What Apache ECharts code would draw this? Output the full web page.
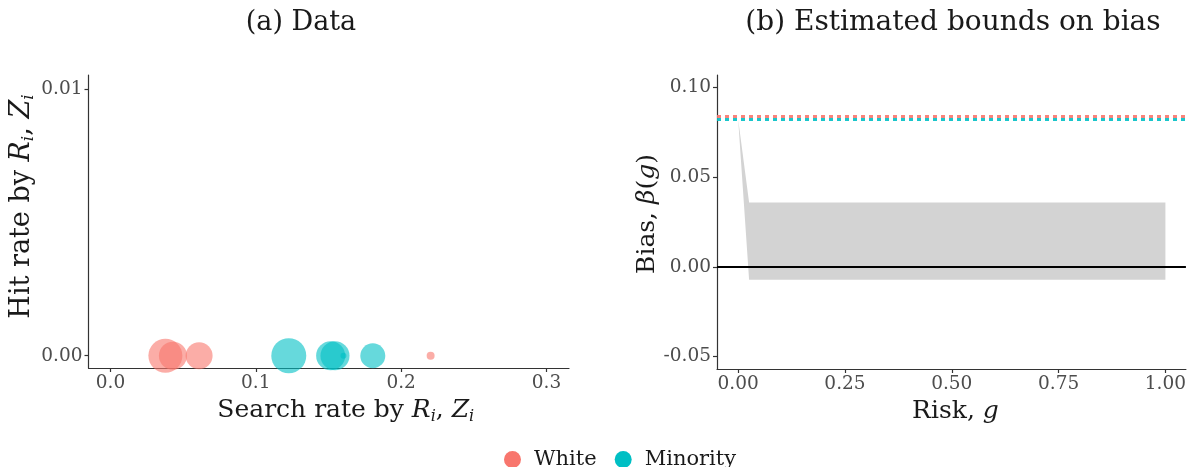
<!DOCTYPE html>
<html>
<head>
<meta charset="utf-8">
<script src="https://cdn.jsdelivr.net/npm/echarts@6/dist/echarts.min.js"></script>
<style>
  html, body { margin: 0; padding: 0; background: #ffffff; }
  #chart { width: 1189px; height: 467px; }
</style>
</head>
<body>
<div id="chart"></div>
<script>
// Panel titles
const panelTitles = ['(a) Data', '(b) Estimated bounds on bias'];

// (a) Search rate / hit rate by group, bubble area ~ number of stops
const whiteSearchRate = [0.0378, 0.0430, 0.0610, 0.2203];
const whiteHitRate = [0, 0, 0, 0];
const whiteStops = [1000, 680, 630, 55];
const minoritySearchRate = [0.1227, 0.1515, 0.1545, 0.1603, 0.1805];
const minorityHitRate = [0, 0, 0, 0, 0];
const minorityStops = [1060, 730, 730, 31, 540];

// (b) Estimated bounds on bias across risk g
const riskGrid = [0, 0.0256, 1];
const biasLower = [0.0822, -0.0072, -0.0072];
const biasUpper = [0.0822, 0.0358, 0.0358];
const whiteHitThreshold = 0.0840;
const minorityHitThreshold = 0.0825;

// Tick labels
const leftXTicks = [0, 0.1, 0.2, 0.3];
const leftYTicks = [0, 0.01];
const rightXTicks = [0, 0.25, 0.5, 0.75, 1];
const rightYTicks = [-0.05, 0, 0.05, 0.1];

const WHITE = '#F8766D';
const MINORITY = '#00BFC4';
const SERIF = '"DejaVu Serif", "Liberation Serif", serif';
const AXIS_COL = '#333333';
const TICK_COL = '#4D4D4D';

function bubbleSize(stops) { return 34 * Math.sqrt(stops / 1000); }
function zip(xs, ys, extra) {
  return xs.map((x, i) => extra ? [x, ys[i], extra[i]] : [x, ys[i]]);
}

function nameStyle(size, padding) {
  return {
    fontFamily: SERIF, fontSize: size, color: '#1a1a1a', padding: padding || 0,
    rich: {
      it: { fontFamily: SERIF, fontStyle: 'italic', fontSize: size, color: '#1a1a1a' },
      sub: { fontFamily: SERIF, fontStyle: 'italic', fontSize: Math.round(size * 0.64), color: '#1a1a1a', verticalAlign: 'bottom', padding: [0, 0, -2, 0] }
    }
  };
}

function axisCommon(ticks, digits) {
  return {
    axisLine: { show: true, onZero: false, lineStyle: { color: AXIS_COL, width: 1.2 } },
    axisTick: { show: true, length: 4, customValues: ticks, lineStyle: { color: AXIS_COL, width: 1.2 } },
    axisLabel: {
      customValues: ticks, margin: 6, color: TICK_COL, fontFamily: SERIF, fontSize: 18.5,
      formatter: v => Number(v).toFixed(digits)
    },
    splitLine: { show: false }
  };
}

const chart = echarts.init(document.getElementById('chart'), null, { renderer: 'canvas' });

const option = {
  backgroundColor: '#ffffff',
  animation: false,
  graphic: [
    { type: 'text', x: 301, y: 23, style: { text: panelTitles[0], font: '27px ' + SERIF, fill: '#1a1a1a', textAlign: 'center', textVerticalAlign: 'middle' } },
    { type: 'text', x: 953, y: 23, style: { text: panelTitles[1], font: '28px ' + SERIF, fill: '#1a1a1a', textAlign: 'center', textVerticalAlign: 'middle' } }
  ],
  legend: {
    data: [
      { name: 'White', itemStyle: { color: WHITE, opacity: 1 } },
      { name: 'Minority', itemStyle: { color: MINORITY, opacity: 1 } }
    ],
    icon: 'circle',
    itemWidth: 17, itemHeight: 17, itemGap: 18,
    left: 499, top: 444,
    textStyle: { fontFamily: SERIF, fontSize: 21, color: '#1a1a1a', padding: [0, 0, 0, 8] }
  },
  grid: [
    { left: 88.5, top: 75, width: 480.5, height: 293, containLabel: false },
    { left: 717, top: 75, width: 472, height: 294, containLabel: false }
  ],
  xAxis: [
    Object.assign({
      type: 'value', gridIndex: 0, min: -0.0151, max: 0.3155,
      name: 'Search rate by {it|R}{sub|i}, {it|Z}{sub|i}', nameLocation: 'middle', nameGap: 30,
      nameTextStyle: nameStyle(25, [0, 0, 0, 34])
    }, axisCommon(leftXTicks, 1)),
    Object.assign({
      type: 'value', gridIndex: 1, min: -0.0495, max: 1.048,
      name: 'Risk, {it|g}', nameLocation: 'middle', nameGap: 30,
      nameTextStyle: nameStyle(25, [0, 0, 0, 8])
    }, axisCommon(rightXTicks, 2))
  ],
  yAxis: [
    Object.assign({
      type: 'value', gridIndex: 0, min: -0.00046, max: 0.01053,
      name: 'Hit rate by {it|R}{sub|i}, {it|Z}{sub|i}', nameLocation: 'middle', nameGap: 50,
      nameTextStyle: nameStyle(27, [0, 0, 0, 30])
    }, axisCommon(leftYTicks, 2)),
    Object.assign({
      type: 'value', gridIndex: 1, min: -0.057, max: 0.1069,
      name: 'Bias, {it|β}({it|g})', nameLocation: 'middle', nameGap: 56,
      nameTextStyle: nameStyle(25, [0, 0, 0, 16])
    }, axisCommon(rightYTicks, 2))
  ],
  series: [
    {
      name: 'White', type: 'scatter', xAxisIndex: 0, yAxisIndex: 0,
      data: zip(whiteSearchRate, whiteHitRate, whiteStops),
      symbolSize: d => bubbleSize(d[2]),
      itemStyle: { color: WHITE, opacity: 0.6 }, z: 3
    },
    {
      name: 'Minority', type: 'scatter', xAxisIndex: 0, yAxisIndex: 0,
      data: zip(minoritySearchRate, minorityHitRate, minorityStops),
      symbolSize: d => bubbleSize(d[2]),
      itemStyle: { color: MINORITY, opacity: 0.6 }, z: 3
    },
    {
      // ribbon between lower and upper bias bounds
      name: 'bounds', type: 'custom', xAxisIndex: 1, yAxisIndex: 1, z: 1, silent: true, clip: true,
      data: riskGrid.map((g, i) => [g, biasLower[i], biasUpper[i]]),
      renderItem: (params, api) => {
        if (params.dataIndex !== 0) return null;
        const upper = riskGrid.map((g, i) => api.coord([g, biasUpper[i]]));
        const lower = riskGrid.map((g, i) => api.coord([g, biasLower[i]])).reverse();
        return {
          type: 'polygon',
          shape: { points: upper.concat(lower) },
          style: { fill: '#D3D3D3', stroke: null }
        };
      }
    },
    {
      name: 'reference lines', type: 'line', xAxisIndex: 1, yAxisIndex: 1, data: [], z: 5,
      markLine: {
        silent: true, symbol: 'none', label: { show: false }, animation: false, precision: 5,
        data: [
          { yAxis: 0, lineStyle: { color: '#000000', width: 2.2, type: 'solid' } },
          { yAxis: whiteHitThreshold, lineStyle: { color: WHITE, width: 3, type: [4, 4], cap: 'butt', opacity: 0.9 } },
          { yAxis: minorityHitThreshold, lineStyle: { color: MINORITY, width: 3, type: [4, 4], cap: 'butt', opacity: 0.9 } }
        ]
      }
    }
  ]
};

chart.setOption(option);
</script>
</body>
</html>
